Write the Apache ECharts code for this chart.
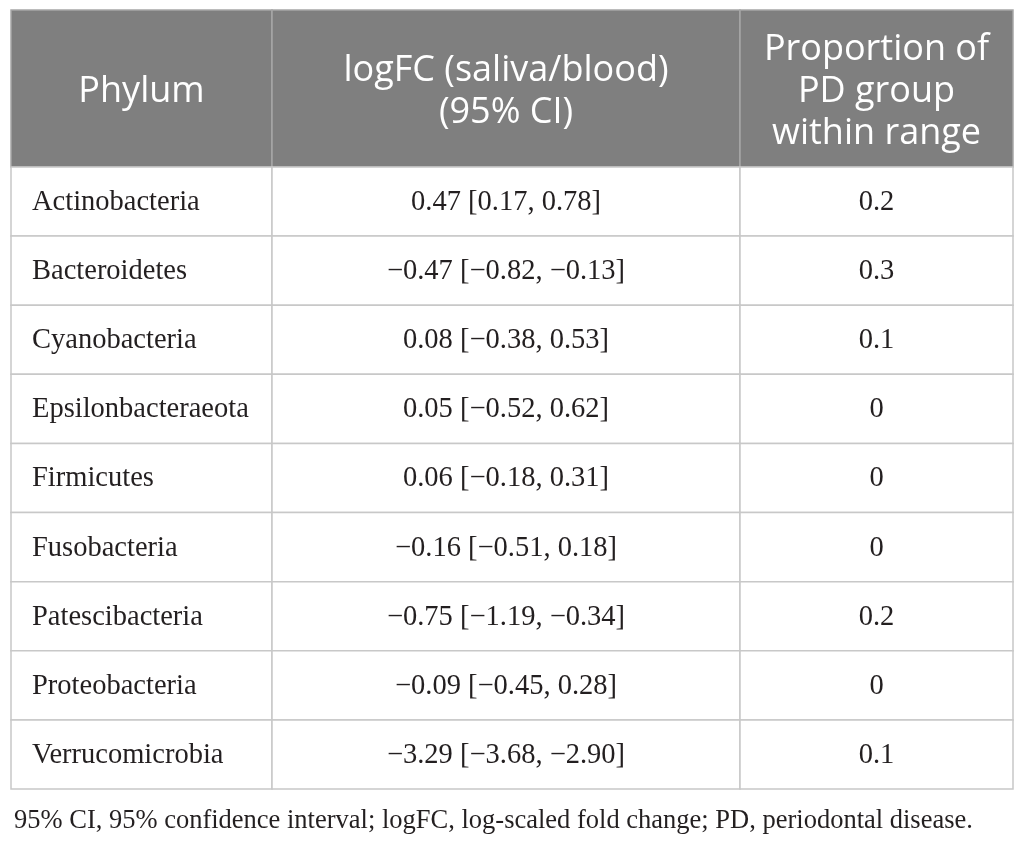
<!DOCTYPE html>
<html>
<head>
<meta charset="utf-8">
<script src="https://cdn.jsdelivr.net/npm/echarts@6/dist/echarts.min.js"></script>
<style>
  html, body { margin: 0; padding: 0; background: #fff; }
  #main { width: 1025px; height: 843px; }
</style>
</head>
<body>
<div id="main"></div>
<script>
// table content
var headers = ['Phylum', 'logFC (saliva/blood)\n(95% CI)', 'Proportion of\nPD group\nwithin range']
var phyla = ['Actinobacteria', 'Bacteroidetes', 'Cyanobacteria', 'Epsilonbacteraeota', 'Firmicutes',
  'Fusobacteria', 'Patescibacteria', 'Proteobacteria', 'Verrucomicrobia']
var logFC = [0.47, -0.47, 0.08, 0.05, 0.06, -0.16, -0.75, -0.09, -3.29]
var ciLow = [0.17, -0.82, -0.38, -0.52, -0.18, -0.51, -1.19, -0.45, -3.68]
var ciHigh = [0.78, -0.13, 0.53, 0.62, 0.31, 0.18, -0.34, 0.28, -2.90]
var proportion = [0.2, 0.3, 0.1, 0, 0, 0, 0.2, 0, 0.1]
var footnote = '95% CI, 95% confidence interval; logFC, log-scaled fold change; PD, periodontal disease.'

// column edges in axis units (the x axis runs 0..1002)
var colEdges = [0, 261, 729, 1002]

function fmt(v) {
  // typeset minus sign like the source
  return (v < 0 ? '\u2212' : '') + Math.abs(v).toFixed(2)
}

var bodyCells = []
phyla.forEach(function (p, r) {
  bodyCells.push({ value: [0, r], label: p })
  bodyCells.push({ value: [1, r], label: fmt(logFC[r]) + ' [' + fmt(ciLow[r]) + ', ' + fmt(ciHigh[r]) + ']' })
  bodyCells.push({ value: [2, r], label: String(proportion[r]) })
})
var headCells = headers.map(function (h, c) {
  return { value: [c, 0], label: h }
})

function cellRenderer(cells, isHead) {
  return function (params, api) {
    var cell = cells[params.dataIndex]
    var c = cell.value[0], r = cell.value[1]
    var p0 = api.coord([colEdges[c], r])
    var p1 = api.coord([colEdges[c + 1], r])
    var h = api.size([0, 1])[1]
    var x0 = p0[0], x1 = p1[0], yc = p0[1]
    var left = !isHead && c === 0
    return {
      type: 'group',
      children: [{
        type: 'rect',
        shape: { x: x0, y: yc - h / 2, width: x1 - x0, height: h },
        style: {
          fill: isHead ? '#7f7f7f' : '#ffffff',
          stroke: isHead ? '#a6a6a6' : '#c8c8c8',
          lineWidth: 1.5
        }
      }, {
        type: 'text',
        x: left ? x0 + 21 : (x0 + x1) / 2,
        y: yc + (isHead ? 3 : 1),
        style: {
          text: cell.label,
          fill: isHead ? '#ffffff' : '#231f20',
          font: isHead ? '36px "Open Sans"' : '28.5px "Liberation Serif"',
          lineHeight: isHead ? 42 : 30,
          align: left ? 'left' : 'center',
          verticalAlign: 'middle'
        }
      }]
    }
  }
}

var myChart = echarts.init(document.getElementById('main'))
var option = {
  animation: false,
  title: {
    text: footnote,
    left: 9,
    top: 803,
    textStyle: {
      color: '#231f20',
      fontFamily: 'Liberation Serif',
      fontWeight: 'normal',
      fontSize: 26.5
    }
  },
  grid: [
    { left: 11, right: 12, top: 10, height: 157 },
    { left: 11, right: 12, top: 167, height: 622 }
  ],
  xAxis: [
    { type: 'value', gridIndex: 0, min: 0, max: 1002, show: false },
    { type: 'value', gridIndex: 1, min: 0, max: 1002, show: false }
  ],
  yAxis: [
    { type: 'category', gridIndex: 0, data: ['head'], show: false },
    { type: 'category', gridIndex: 1, data: phyla, inverse: true, show: false }
  ],
  series: [{
    type: 'custom',
    xAxisIndex: 0,
    yAxisIndex: 0,
    renderItem: cellRenderer(headCells, true),
    data: headCells.map(function (d) { return d.value })
  }, {
    type: 'custom',
    xAxisIndex: 1,
    yAxisIndex: 1,
    renderItem: cellRenderer(bodyCells, false),
    data: bodyCells.map(function (d) { return d.value })
  }]
}
myChart.setOption(option)
</script>
</body>
</html>
